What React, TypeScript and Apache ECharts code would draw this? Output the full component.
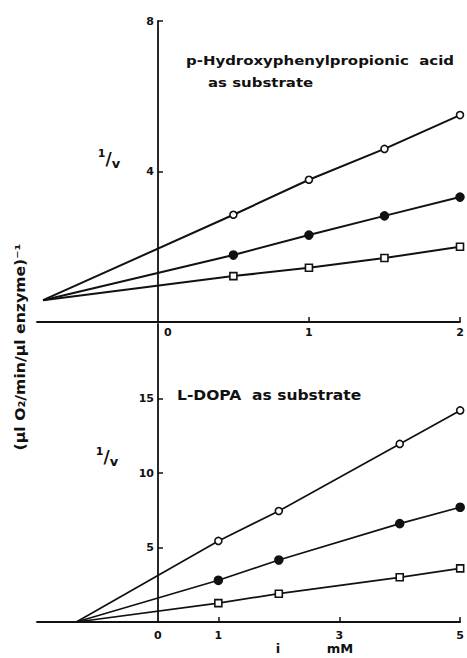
import React, { useEffect, useRef } from "react";
import * as echarts from "echarts";

// ---- data ----
const TOP_X = [0.5, 1, 1.5, 2];
const TOP_OPEN = [2.85, 3.78, 4.6, 5.5];
const TOP_FILLED = [1.78, 2.31, 2.82, 3.32];
const TOP_SQUARE = [1.22, 1.44, 1.7, 2.0];
const TOP_CONVERGE = [-0.76, 0.58];

const BOT_X = [1, 2, 4, 5];
const BOT_OPEN = [5.44, 7.45, 11.95, 14.2];
const BOT_FILLED = [2.8, 4.16, 6.6, 7.7];
const BOT_SQUARE = [1.27, 1.9, 3.0, 3.6];
const BOT_CONVERGE = [-1.35, 0];

const TOP_X_LABELS = [0, 1, 2];
const TOP_X_TICKS = [1, 2];
const TOP_Y_LABELS = [4, 8];
const BOT_X_LABELS = [0, 1, 3, 5];
const BOT_X_TICKS = [1, 3, 5];
const BOT_Y_LABELS = [5, 10, 15];

const TOP_TITLE_1 = "p-Hydroxyphenylpropionic  acid";
const TOP_TITLE_2 = "as substrate";
const BOT_TITLE = "L-DOPA  as substrate";
const Y_TITLE = "(µl O\u2082/min/µl enzyme)\u207B\u00B9";
const INV_V = "{a|1}{b|/}{c|v}";

const FONT = "DejaVu Sans";
const INK = "#111";

function buildSeries(
  xs: number[],
  ys: number[],
  conv: number[],
  kind: "open" | "filled" | "square",
  axisIndex: number,
  lw: number
) {
  const data: any[] = [{ value: conv, symbol: "none" }];
  xs.forEach((x, i) => data.push([x, ys[i]]));
  const symbol = kind === "square" ? "rect" : "circle";
  return {
    type: "line",
    xAxisIndex: axisIndex,
    yAxisIndex: axisIndex,
    data,
    symbol,
    symbolSize: kind === "filled" ? 8 : 7,
    showAllSymbol: true,
    lineStyle: { color: INK, width: lw },
    itemStyle: {
      color: kind === "filled" ? INK : "#fff",
      borderColor: INK,
      borderWidth: 1.6,
    },
    z: 3,
  };
}

function axisCommon() {
  return {
    axisLine: { show: true, onZero: false, lineStyle: { color: INK, width: 1.8 } },
    splitLine: { show: false },
    axisLabel: {
      color: INK,
      fontFamily: FONT,
      fontWeight: "bold",
      fontSize: 11,
    },
    axisTick: {
      show: true,
      inside: true,
      length: 5,
      lineStyle: { color: INK, width: 1.5 },
    },
  };
}

function invV(x: number, y: number) {
  return {
    type: "text",
    x,
    y,
    style: {
      text: INV_V,
      fill: INK,
      rich: {
        a: { fontFamily: FONT, fontWeight: "bold", fontSize: 11, fill: INK, verticalAlign: "top", lineHeight: 22 },
        b: { fontFamily: FONT, fontWeight: "bold", fontSize: 17, fill: INK, verticalAlign: "middle", lineHeight: 22 },
        c: { fontFamily: FONT, fontWeight: "bold", fontSize: 13, fill: INK, verticalAlign: "bottom", lineHeight: 22 },
      },
      align: "center",
      verticalAlign: "middle",
    },
  };
}

export default function App() {
  const ref = useRef<HTMLDivElement>(null);

  useEffect(() => {
    if (!ref.current) return;
    const chart = echarts.init(ref.current, null, { renderer: "svg" });
    const c = axisCommon();

    const titleStyle = (text: string, size: number) => ({
      text,
      fontFamily: FONT,
      fontWeight: "bold",
      fontSize: size,
      fill: INK,
      verticalAlign: "middle",
    });

    const option: any = {
      animation: false,
      backgroundColor: "#fff",
      grid: [
        { left: 37, top: 21, width: 423, height: 301 },
        { left: 37, top: 324, width: 424, height: 298 },
      ],
      xAxis: [
        {
          type: "value",
          gridIndex: 0,
          min: -0.8,
          max: 2,
          ...c,
          axisLabel: {
            ...c.axisLabel,
            customValues: TOP_X_LABELS,
            margin: 5,
            formatter: (v: number) => (v === 0 ? "{z|0}" : String(v)),
            rich: {
              z: {
                fontFamily: FONT,
                fontWeight: "bold",
                fontSize: 11,
                color: INK,
                padding: [0, 0, 0, 20],
              },
            },
          },
          axisTick: { ...c.axisTick, customValues: TOP_X_TICKS },
        },
        {
          type: "value",
          gridIndex: 1,
          min: -2,
          max: 5,
          ...c,
          axisLabel: { ...c.axisLabel, customValues: BOT_X_LABELS, margin: 8 },
          axisTick: { ...c.axisTick, customValues: BOT_X_TICKS },
        },
      ],
      yAxis: [
        {
          type: "value",
          gridIndex: 0,
          min: 0,
          max: 8,
          offset: -121,
          ...c,
          axisLabel: { ...c.axisLabel, customValues: TOP_Y_LABELS, margin: 4 },
          axisTick: { ...c.axisTick, customValues: TOP_Y_LABELS },
        },
        {
          type: "value",
          gridIndex: 1,
          min: 0,
          max: 20,
          offset: -121,
          ...c,
          axisLabel: { ...c.axisLabel, customValues: BOT_Y_LABELS, margin: 4 },
          axisTick: { ...c.axisTick, customValues: BOT_Y_LABELS },
        },
      ],
      series: [
        buildSeries(TOP_X, TOP_OPEN, TOP_CONVERGE, "open", 0, 2),
        buildSeries(TOP_X, TOP_FILLED, TOP_CONVERGE, "filled", 0, 2),
        buildSeries(TOP_X, TOP_SQUARE, TOP_CONVERGE, "square", 0, 2),
        buildSeries(BOT_X, BOT_OPEN, BOT_CONVERGE, "open", 1, 1.7),
        buildSeries(BOT_X, BOT_FILLED, BOT_CONVERGE, "filled", 1, 1.7),
        buildSeries(BOT_X, BOT_SQUARE, BOT_CONVERGE, "square", 1, 1.7),
      ],
      graphic: [
        { type: "text", x: 186, y: 60, scaleX: 1.15, style: titleStyle(TOP_TITLE_1, 13) },
        { type: "text", x: 208, y: 82, scaleX: 1.15, style: titleStyle(TOP_TITLE_2, 13) },
        { type: "text", x: 177, y: 395, scaleX: 1.15, style: titleStyle(BOT_TITLE, 13.5) },
        {
          type: "text",
          x: 20,
          y: 347,
          rotation: Math.PI / 2,
          scaleX: 1.12,
          style: {
            text: Y_TITLE,
            fontFamily: FONT,
            fontWeight: "bold",
            fontSize: 14,
            fill: INK,
            align: "center",
            verticalAlign: "middle",
          },
        },
        invV(109, 159),
        invV(107, 457),
        {
          type: "text", x: 278, y: 648,
          style: { text: "i", fontFamily: FONT, fontWeight: "bold", fontSize: 13, fill: INK, align: "center", verticalAlign: "middle" },
        },
        {
          type: "text", x: 340, y: 648,
          style: { text: "mM", fontFamily: FONT, fontWeight: "bold", fontSize: 13, fill: INK, align: "center", verticalAlign: "middle" },
        },
      ],
    };

    chart.setOption(option);
    return () => chart.dispose();
  }, []);

  return (
    <div
      ref={ref}
      style={{ position: "absolute", left: 0, top: 0, width: 467, height: 658 }}
    />
  );
}
